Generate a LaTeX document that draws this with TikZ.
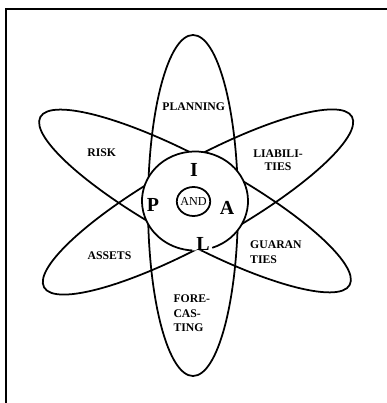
\documentclass[tikz,border=0pt]{standalone}
\usepackage{fontspec}
\setmainfont{Liberation Serif}
\usepackage{tikz}
\usetikzlibrary{positioning}

\begin{document}
\begin{tikzpicture}[x=0.03cm,y=0.03cm,
    petal/.style={line width=1.5pt},
    lbl/.style={font=\fontsize{10}{12}\selectfont\bfseries,inner sep=0pt},
    letter/.style={font=\fontsize{17}{17}\selectfont\bfseries,inner sep=0pt}]
  \useasboundingbox (0,0) rectangle (386,-403);
  \fill[white] (0,0) rectangle (386,-403);
  % frame, only top and left edges show
  \draw[line width=1.7pt] (6.2,-410) -- (6.2,-9.3) -- (392,-9.3);

  \coordinate (hub) at (195,-201);
  \coordinate (hubv) at (193,-205.5);
  \coordinate (hubc) at (198,-202);

  % the three petals
  \draw[petal] (hubv) ellipse [x radius=45,y radius=170.5];
  \draw[petal,rotate around={-28.5:(hub)}] (hub) ellipse [x radius=176,y radius=41];
  \draw[petal,rotate around={29:(hubc)}] (hubc) ellipse [x radius=176,y radius=41];

  % core circle, open under the L
  \fill[white] (hub) ellipse [x radius=53,y radius=49.5];
  \draw[petal] (hub) ++(-71:53 and 49.5) arc [start angle=-71,end angle=267,x radius=53,y radius=49.5];

  \node[lbl,font=\fontsize{10.4}{12}\selectfont] (and) at (193.5,-201.5) {AND};
  \draw[petal] (and.center) ellipse [x radius=16.7,y radius=14.5];

  \node[letter] (li) at (194,-170) {I};
  \node[letter] (lp) at (153,-205) {P};
  \node[letter] (la) at (227,-207.5) {A};
  \node[letter] (ll) at (203,-244) {L};

  \node[lbl] (plan) at (193.7,-106.7) {PLANNING};
  \node[lbl] (risk) at (101.7,-152.5) {RISK};
  \node[lbl,align=center,anchor=north] (liab) at (278,-150) {LIABILI-\\[-1pt]TIES};
  \node[lbl,align=left,anchor=north west] (guar) at (250,-240.7) {GUARAN\\[1pt]TIES};
  \node[lbl] (asset) at (109.5,-256) {ASSETS};
  \node[lbl,align=left,anchor=north west] (fore) at (173.3,-295) {FORE-\\CAS-\\TING};
\end{tikzpicture}
\end{document}
